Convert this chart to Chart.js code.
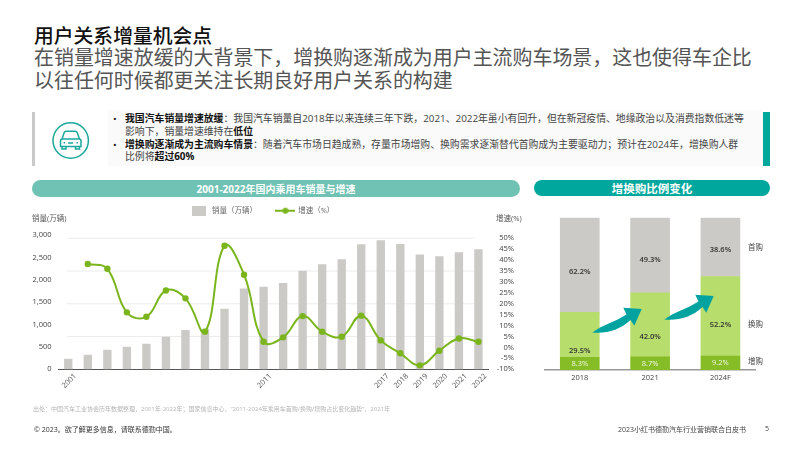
<!DOCTYPE html>
<html lang="zh">
<head>
<meta charset="utf-8">
<script src="https://cdn.jsdelivr.net/npm/chart.js@4"></script>
<style>
html,body{margin:0;padding:0;background:#fff;}
body{width:802px;height:451px;position:relative;overflow:hidden;font-family:"Open Sans","Noto Sans CJK SC",sans-serif;color:#333;}
.t{position:absolute;white-space:nowrap;line-height:1;}
.sq{position:absolute;}
canvas{position:absolute;}
b{font-weight:700;color:#111;}
</style>
</head>
<body>
<div class="t" style="left:34px;top:25px;font-size:19.8px;font-weight:500;color:#111;font-family:'Noto Sans CJK SC'">用户关系增量机会点</div>
<div class="t" style="left:34px;top:47px;font-size:19.950px;color:#555;font-family:'Noto Sans CJK SC'">在销量增速放缓的大背景下，增换购逐渐成为用户主流购车场景，这也使得车企比</div>
<div class="t" style="left:34px;top:70px;font-size:19.950px;color:#555;font-family:'Noto Sans CJK SC'">以往任何时候都更关注长期良好用户关系的构建</div>

<div class="sq" style="left:108px;top:110px;width:655px;height:56px;background:#fafafa"></div>
<div class="sq" style="left:32px;top:112px;width:3px;height:54px;background:#c9c9c9"></div>
<div class="sq" style="left:763px;top:112px;width:7px;height:54px;background:#00a79d"></div>
<svg class="sq" style="left:50px;top:120px" width="42" height="42" viewBox="0 0 42 42" fill="none" stroke="#1aa89c" stroke-width="1.5">
<circle cx="20.7" cy="20.5" r="17.7"/>
<path d="M12 19l2.2-6.5q.5-1.2 2-1.2h9q1.5 0 2 1.2L29.5 19M10.5 21q0-2 2-2h16.500q2 0 2 2v5.500h-20.500zM12 26.500v2.500h4v-2.500M25.500 26.500v2.500h4v-2.500M18 23h5M13.500 22.800h1.500M26.500 22.800h1.500"/>
</svg>
<div class="t" style="left:113px;top:114px;font-size:9.85px;color:#111">•</div>
<div class="t" style="left:125px;top:114px;font-size:9.85px;color:#444"><b>我国汽车销量增速放缓</b>：我国汽车销量自2018年以来连续三年下跌，2021、2022年虽小有回升，但在新冠疫情、地缘政治以及消费指数低迷等</div>
<div class="t" style="left:125px;top:127px;font-size:9.85px;color:#444">影响下，销量增速维持在<b>低位</b></div>
<div class="t" style="left:113px;top:140px;font-size:9.85px;color:#111">•</div>
<div class="t" style="left:125px;top:140px;font-size:9.85px;color:#444"><b>增换购逐渐成为主流购车情景</b>：随着汽车市场日趋成熟，存量市场增购、换购需求逐渐替代首购成为主要驱动力；预计在2024年，增换购人群</div>
<div class="t" style="left:125px;top:152px;font-size:9.85px;color:#444">比例将<b>超过60%</b></div>

<div class="sq" style="left:32px;top:180px;width:488px;height:17px;border-radius:8.500px;background:#6fc2b4"></div>
<div class="t" style="left:32px;width:488px;top:183.500px;text-align:center;font-size:10px;font-weight:700;color:#fff">2001-2022年国内乘用车销量与增速</div>
<div class="sq" style="left:534px;top:180px;width:236px;height:16px;border-radius:8px;background:#00a79d"></div>
<div class="t" style="left:534px;width:236px;top:182.500px;text-align:center;font-size:11.500px;font-weight:700;color:#fff">增换购比例变化</div>

<canvas id="sales" style="left:0;top:180px;width:524px;height:220px"></canvas>
<canvas id="mix" style="left:535px;top:210px;width:230px;height:190px"></canvas>

<div class="t" style="left:32px;top:215px;font-size:7.500px;color:#555">销量(万辆)</div>
<div class="t" style="left:496px;top:215px;font-size:7.500px;color:#555">增速(%)</div>
<div class="t" style="left:748px;top:244px;font-size:7.500px;color:#444">首购</div>
<div class="t" style="left:748px;top:321px;font-size:7.500px;color:#444">换购</div>
<div class="t" style="left:748px;top:358px;font-size:7.500px;color:#444">增购</div>

<svg class="sq" style="left:0;top:0;pointer-events:none" width="802" height="451">
<defs><path id="arr" d="M592.300 332.500C602 325 615 322 626.500 314.500L623.300 307.700L641.700 309L634.300 325.700L630.500 320C620 330 606 334 592.300 332.500Z" fill="#00a3a0"/></defs>
<use href="#arr"/><use href="#arr" transform="translate(72,-13)"/>
</svg>

<div class="t" style="left:33px;top:406px;font-size:6px;color:#b5b5b5">出处：中国汽车工业协会历年数据整理，2001年-2022年；国家信息中心，“2011-2024年乘用车首购/换购/增购占比变化趋势”，2021年</div>
<div class="t" style="left:34px;top:426px;font-size:7px;color:#333">© 2023。欲了解更多信息，请联系德勤中国。</div>
<div class="t" style="left:618px;top:426px;font-size:7px;color:#444">2023小红书德勤汽车行业营销联合白皮书</div>
<div class="t" style="left:765px;top:425px;font-size:7px;color:#444">5</div>

<script>
const years = ['2001','2002','2003','2004','2005','2006','2007','2008','2009','2010','2011','2012','2013','2014','2015','2016','2017','2018','2019','2020','2021','2022'];
const shownYears = ['2001','2011','2017','2018','2019','2020','2021','2022'];
const salesValues = [231,321,433,500,567,724,873,903,1351,1799,1843,1925,2201,2343,2455,2791,2881,2799,2560,2522,2612,2679];
const growthValues = [null,38.1,35.9,16,14,26,22.4,7.2,46.4,33.2,2.6,4.6,14.3,7.2,4.9,14.5,3.2,-2.7,-8.2,-1.5,4.1,2.6];
const growthTicks = [-10,-5,0,5,10,15,20,25,30,35,40,45,50];
const gridLevels = [0,1,2,3,4];

const mixYears = ['2018','2021','2024F'];
const addBuy = [8.3,8.7,9.2];
const swapBuy = [29.5,42.0,52.2];
const firstBuy = [62.2,49.3,38.6];

Chart.defaults.font.family = '"Open Sans","Noto Sans CJK SC",sans-serif';
Chart.defaults.animation = false;
Chart.defaults.responsive = false;

function swatch(w,h,draw){const c=document.createElement('canvas');c.width=w;c.height=h;draw(c.getContext('2d'));return c;}
const rectMark = swatch(14,10,x=>{x.fillStyle='#cbcac6';x.fillRect(0,0,14,10);});
const lineMark = swatch(20,8,x=>{x.strokeStyle='#7ab51d';x.lineWidth=2;x.beginPath();x.moveTo(0,4);x.lineTo(20,4);x.stroke();x.fillStyle='#7ab51d';x.beginPath();x.arc(10,4,3,0,7);x.fill();});

const partialGrid = {
  id:'partialGrid',
  beforeDatasetsDraw(chart){
    const g=chart.scales.gridAxis, x=chart.scales.x, c=chart.ctx;
    const a=x.getPixelForValue(0)-1.5, b=x.getPixelForValue(21)-4.5;
    c.save();c.strokeStyle='#ececec';c.lineWidth=1;
    g.ticks.forEach(t=>{if(t.value===0)return;const y=g.getPixelForValue(t.value);c.beginPath();c.moveTo(a,y);c.lineTo(b,y);c.stroke();});
    c.restore();
  }
};
const legendRoom = {
  id:'legendRoom',
  beforeInit(chart){
    const fit=chart.legend.fit;
    chart.legend.fit=function(){fit.call(this);this.height=47.800;};
  }
};

function prep(id,w,h){const el=document.getElementById(id);el.width=w;el.height=h;return el;}

new Chart(prep('sales',524,220),{
  type:'bar',
  data:{labels:years,datasets:[
    {type:'line',label:'增速（%）',data:growthValues,yAxisID:'growth',borderColor:'#7ab51d',backgroundColor:'#7ab51d',borderWidth:2,tension:0.42,pointRadius:3.200,pointBackgroundColor:'#7ab51d',pointBorderWidth:0,order:0,clip:false,pointStyle:'circle'},
    {type:'bar',label:'销量（万辆）',data:salesValues,yAxisID:'y',backgroundColor:'#cbcac6',barThickness:7.700,order:1}
  ]},
  options:{
    layout:{padding:{left:10.500,right:10,top:7.500,bottom:0}},
    plugins:{tooltip:{enabled:false},legend:{position:'top',labels:{
      usePointStyle:true,pointStyleWidth:18,padding:19.500,color:'#666',font:{size:7.500},
      generateLabels(ch){return [
        {text:'销量（万辆）',pointStyle:rectMark,datasetIndex:1,fontColor:'#666',lineWidth:0,strokeStyle:'transparent'},
        {text:'增速（%）',pointStyle:lineMark,datasetIndex:0,fontColor:'#666',lineWidth:0,strokeStyle:'transparent'}
      ];}
    }}},
    scales:{
      x:{type:'category',axis:'x',grid:{display:false,drawTicks:false},border:{color:'#555',width:1},afterFit(s){s.height=30.700;},
        ticks:{autoSkip:false,minRotation:45,maxRotation:45,padding:2.500,labelOffset:7,color:'#555',font:{size:7.500},
          callback(v){const l=years[v];return shownYears.includes(l)?l:'';}}},
      y:{type:'linear',axis:'y',position:'left',min:0,max:3000,grid:{display:false,drawTicks:false},border:{display:false},afterFit(s){s.width=48;},
        ticks:{stepSize:500,padding:7,color:'#444',font:{size:7.500},callback:v=>v.toLocaleString('en-US')}},
      growth:{type:'linear',axis:'y',position:'right',min:-10,max:51.200,grid:{display:false,drawTicks:false},border:{display:false},afterFit(s){s.width=25.800;},
        afterBuildTicks(s){s.ticks=growthTicks.map(v=>({value:v}));},
        ticks:{autoSkip:false,crossAlign:'far',padding:0,color:'#444',font:{size:7.500},callback:v=>v+'%'}},
      gridAxis:{type:'linear',axis:'y',position:'left',display:false,min:0,max:4.090,afterBuildTicks(s){s.ticks=gridLevels.map(v=>({value:v}));}}
    }
  },
  plugins:[legendRoom,partialGrid]
});

const labelShift = [[0,0,0],[16,12,9],[6.300,5,2.300]];
const mixLabels = {
  id:'mixLabels',
  afterDatasetsDraw(chart){
    const c=chart.ctx;c.save();c.textAlign='center';c.textBaseline='middle';
    chart.data.datasets.forEach((ds,i)=>{
      c.font=(i===0?'400':'600')+' 7.500px "Open Sans","Noto Sans CJK SC"';
      chart.getDatasetMeta(i).data.forEach((el,j)=>{
        c.fillStyle=i===0?'#f2f7e4':'#333';
        c.fillText(ds.data[j].toFixed(1)+'%',el.x,(el.y+el.base)/2+labelShift[i][j]);
      });
    });
    c.restore();
  }
};

new Chart(prep('mix',230,190),{
  type:'bar',
  data:{labels:mixYears,datasets:[
    {label:'增购',data:addBuy,backgroundColor:'#86bc25',barThickness:39},
    {label:'换购',data:swapBuy,backgroundColor:'#b7dd6c',barThickness:39},
    {label:'首购',data:firstBuy,backgroundColor:'#cbcac6',barThickness:39}
  ]},
  options:{
    layout:{padding:{left:9.600,right:9.400,top:7.700,bottom:0}},
    plugins:{legend:{display:false},tooltip:{enabled:false}},
    scales:{
      x:{type:'category',axis:'x',stacked:true,grid:{display:false,drawTicks:false},border:{color:'#999',width:1.500},afterFit(s){s.height=30;},
        ticks:{padding:3,color:'#444',font:{size:7.500}}},
      y:{type:'linear',axis:'y',stacked:true,display:false,min:0,max:100}
    }
  },
  plugins:[mixLabels]
});
</script>
</body>
</html>
